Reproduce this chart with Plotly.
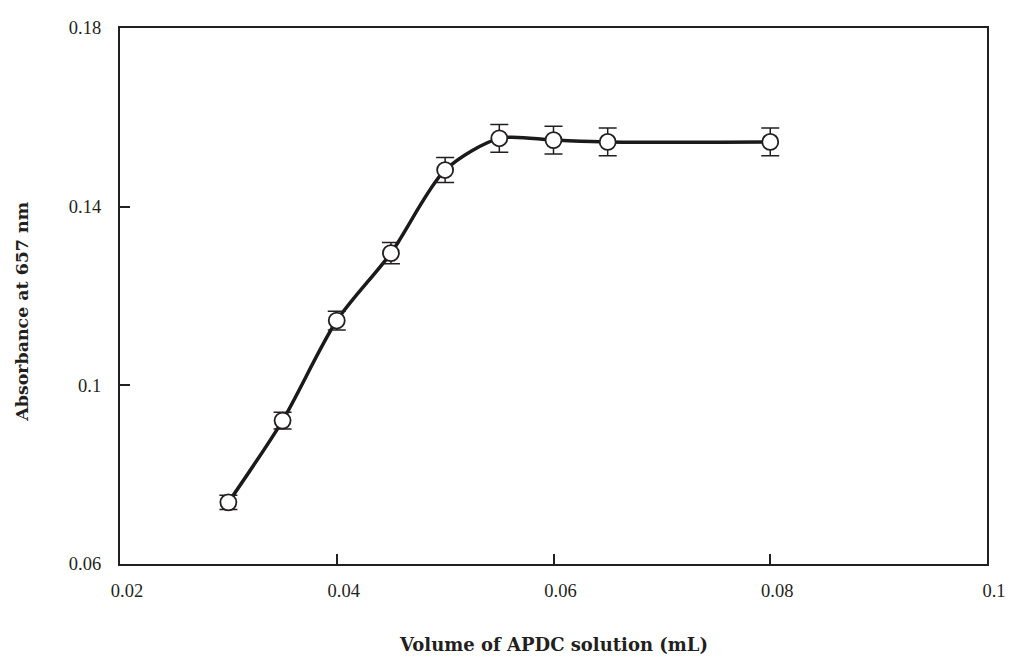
import plotly.graph_objects as go

volume_ml = [0.03, 0.035, 0.04, 0.045, 0.05, 0.055, 0.06, 0.065, 0.08]
absorbance = [0.0738, 0.0921, 0.1145, 0.1296, 0.1482, 0.1553, 0.1549, 0.1545, 0.1545]
abs_error = [0.0016, 0.0019, 0.0021, 0.0024, 0.0028, 0.0031, 0.0031, 0.0031, 0.0031]

x_ticks = [0.02, 0.04, 0.06, 0.08, 0.1]
x_ticklabels = ["0.02", "0.04", "0.06", "0.08", "0.1"]
y_ticks = [0.06, 0.1, 0.14, 0.18]
y_ticklabels = ["0.06", "0.1", "0.14", "0.18"]
x_title = "Volume of APDC solution (mL)"
y_title = "Absorbance at 657 nm"

ink = "#231f20"
serif = "Liberation Serif, serif"

fig = go.Figure()
fig.add_trace(go.Scatter(
    x=volume_ml, y=absorbance, mode="lines",
    line=dict(color="#1a1a1a", width=3.5, shape="spline", smoothing=0.8),
    hoverinfo="skip", showlegend=False,
))
fig.add_trace(go.Scatter(
    x=volume_ml, y=absorbance, mode="markers",
    error_y=dict(type="data", array=abs_error, visible=True, color=ink, thickness=1.5, width=9),
    marker=dict(size=16, color="white", line=dict(color=ink, width=1.8)),
    showlegend=False,
))

fig.update_layout(
    width=1012, height=662,
    margin=dict(l=120, r=25, t=28, b=98),
    paper_bgcolor="white", plot_bgcolor="white",
    font=dict(family=serif, size=18.5, color=ink),
    xaxis=dict(
        range=[0.02, 0.1], tickvals=x_ticks, ticktext=x_ticklabels,
        showgrid=False, zeroline=False, automargin=False,
        showline=True, linewidth=2.2, linecolor=ink, mirror=True,
        ticks="inside", ticklen=10, tickwidth=2, tickcolor=ink,
        ticklabelstandoff=9, ticklabelshift=7,
    ),
    yaxis=dict(
        range=[0.06, 0.18], tickvals=y_ticks, ticktext=y_ticklabels,
        showgrid=False, zeroline=False, automargin=False,
        showline=True, linewidth=2.2, linecolor=ink, mirror=True,
        ticks="inside", ticklen=10, tickwidth=2, tickcolor=ink,
        ticklabelstandoff=13,
    ),
    annotations=[
        dict(text=f"<b>{x_title}</b>", xref="paper", yref="paper",
             x=0.5, y=-0.151, xanchor="center", yanchor="middle",
             showarrow=False, font=dict(family="DejaVu Serif, serif", size=18, color=ink)),
        dict(text=f"<b>{y_title}</b>", xref="paper", yref="paper",
             x=-0.114, y=0.471, xanchor="center", yanchor="middle", textangle=-90,
             showarrow=False, font=dict(family="DejaVu Serif, serif", size=17.4, color=ink)),
    ],
)

fig.write_html("out.html")
